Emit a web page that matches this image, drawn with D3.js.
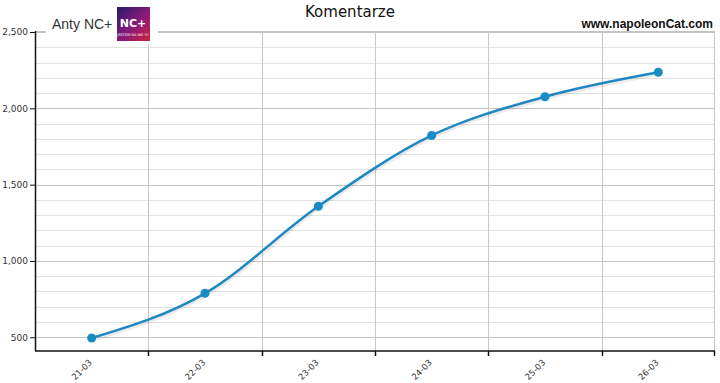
<!DOCTYPE html>
<html>
<head>
    <meta charset="utf-8" />
    <title>Komentarze</title>
    <script src="https://d3js.org/d3.v7.min.js"></script>
    <style>
        body { margin: 0; background: #fff; }
    </style>
</head>
<body>
    <svg class="chart"></svg>
    <script>
        var days = ["21-03", "22-03", "23-03", "24-03", "25-03", "26-03"];
        var comments = [495, 788, 1358, 1822, 2076, 2236];
        var majorTicks = [500, 1000, 1500, 2000, 2500];
        var minorTicks = d3.range(500, 2501, 100);

        var svgWidth = 720, svgHeight = 383;
        var margin = {top: 32, right: 5, bottom: 32, left: 35};
        var width = svgWidth - margin.left - margin.right;
        var height = svgHeight - margin.top - margin.bottom;

        var svg = d3.select(".chart")
            .attr("width", svgWidth)
            .attr("height", svgHeight)
            .style("font-family", "'DejaVu Sans', Verdana, sans-serif");

        var chart = svg.append("g")
            .attr("transform", "translate(" + margin.left + "," + margin.top + ")");

        var xScale = d3.scaleBand().domain(days).range([0, width]);
        var yScale = d3.scaleLinear().domain([410, 2500]).range([height, 0]);
        var xMid = d => xScale(d) + xScale.bandwidth() / 2;

        // minor grid
        chart.append("g").selectAll("line")
            .data(minorTicks.filter(v => majorTicks.indexOf(v) < 0)).enter().append("line")
                .attr("x1", 0).attr("x2", width)
                .attr("y1", d => Math.round(yScale(d)) + 0.5)
                .attr("y2", d => Math.round(yScale(d)) + 0.5)
                .attr("stroke", "#e2e2e2");

        // major grid
        chart.append("g").selectAll("line")
            .data(majorTicks).enter().append("line")
                .attr("x1", 0).attr("x2", width)
                .attr("y1", d => Math.round(yScale(d)) + 0.5)
                .attr("y2", d => Math.round(yScale(d)) + 0.5)
                .attr("stroke", "#c4c4c4");

        // vertical grid at band edges
        chart.append("g").selectAll("line")
            .data(days.slice(1)).enter().append("line")
                .attr("x1", d => Math.round(xScale(d)) + 0.5)
                .attr("x2", d => Math.round(xScale(d)) + 0.5)
                .attr("y1", 0).attr("y2", height)
                .attr("stroke", "#c8c8c8");

        // top and right border
        chart.append("line")
            .attr("x1", 0).attr("x2", width).attr("y1", -0.5).attr("y2", -0.5)
            .attr("stroke", "#c4c4c4");
        chart.append("line")
            .attr("x1", width - 0.5).attr("x2", width - 0.5).attr("y1", 0).attr("y2", height)
            .attr("stroke", "#c8c8c8");

        // y axis
        var yAxis = chart.append("g")
            .call(d3.axisLeft(yScale).tickValues(majorTicks).tickSize(5).tickFormat(d3.format(",")));
        yAxis.select(".domain").attr("d", "M0.5,-1V" + height).attr("stroke", "#111").attr("stroke-width", 1.5);
        yAxis.selectAll(".tick line").attr("stroke", "#111");
        yAxis.selectAll(".tick text").attr("font-size", 9).attr("fill", "#333")
            .style("font-family", "'DejaVu Sans', Verdana, sans-serif").attr("x", -7);

        // x axis with ticks at band boundaries
        var xg = chart.append("g").attr("transform", "translate(0," + height + ")");
        xg.append("line").attr("x1", 0).attr("x2", width).attr("y1", 0).attr("y2", 0)
            .attr("stroke", "#111").attr("stroke-width", 1.5);
        xg.selectAll(".xt").data(days.slice(1).concat(["end"])).enter().append("line")
            .attr("x1", d => d === "end" ? width - 0.5 : Math.round(xScale(d)) + 0.5)
            .attr("x2", d => d === "end" ? width - 0.5 : Math.round(xScale(d)) + 0.5)
            .attr("y1", 0).attr("y2", 5)
            .attr("stroke", "#111").attr("stroke-width", 1.5);
        xg.selectAll(".xl").data(days).enter().append("text")
            .attr("transform", d => "translate(" + (xMid(d) + 1) + ",12) rotate(-45)")
            .attr("text-anchor", "end")
            .attr("font-size", 8.5)
            .attr("fill", "#333")
            .text(d => d);

        // line
        var data = days.map((d, i) => ({day: d, value: comments[i]}));
        var line = d3.line()
            .x(d => xMid(d.day))
            .y(d => yScale(d.value))
            .curve(d3.curveMonotoneX);

        chart.append("path")
            .datum(data)
            .attr("d", line)
            .attr("fill", "none")
            .attr("stroke", "#000")
            .attr("stroke-opacity", 0.08)
            .attr("stroke-width", 4)
            .attr("transform", "translate(1,1.5)");

        chart.append("path")
            .datum(data)
            .attr("d", line)
            .attr("fill", "none")
            .attr("stroke", "#2088c0")
            .attr("stroke-width", 2.5);

        chart.selectAll(".dot")
            .data(data).enter().append("circle")
                .attr("cx", d => xMid(d.day))
                .attr("cy", d => yScale(d.value))
                .attr("r", 4.5)
                .attr("fill", "#1a8cc4");

        // title and labels
        svg.append("text")
            .attr("x", 350).attr("y", 17)
            .attr("text-anchor", "middle")
            .attr("font-size", 15)
            .attr("fill", "#111")
            .text("Komentarze");

        svg.append("text")
            .attr("x", 713).attr("y", 28)
            .attr("text-anchor", "end")
            .attr("font-size", 12)
            .attr("font-weight", "bold")
            .style("font-family", "'Liberation Sans', Arial, sans-serif")
            .attr("fill", "#111")
            .text("www.napoleonCat.com");

        // legend area: white box over top border
        svg.append("rect").attr("x", 46).attr("y", 6).attr("width", 112).attr("height", 38).attr("fill", "#fff");
        svg.append("text")
            .attr("x", 52).attr("y", 29)
            .attr("font-size", 14)
            .style("font-family", "'Liberation Sans', Arial, sans-serif")
            .attr("fill", "#333")
            .text("Anty NC+");

        var grad = svg.append("defs").append("linearGradient")
            .attr("id", "logoGrad").attr("x1", 0).attr("y1", 0).attr("x2", 1).attr("y2", 1);
        grad.append("stop").attr("offset", "0%").attr("stop-color", "#2a1a6a");
        grad.append("stop").attr("offset", "55%").attr("stop-color", "#8a1a7a");
        grad.append("stop").attr("offset", "100%").attr("stop-color", "#d0203a");
        svg.append("rect").attr("x", 117).attr("y", 7).attr("width", 33).attr("height", 34)
            .attr("fill", "url(#logoGrad)");
        svg.append("text").attr("x", 133).attr("y", 27).attr("text-anchor", "middle")
            .attr("font-size", 11).attr("font-weight", "bold").attr("fill", "#fff").text("NC+");
        svg.append("text").attr("x", 133).attr("y", 36).attr("text-anchor", "middle")
            .attr("font-size", 3.5).attr("fill", "#fff").text("JESTEM NA NIE !!!");
    </script>
</body>
</html>
